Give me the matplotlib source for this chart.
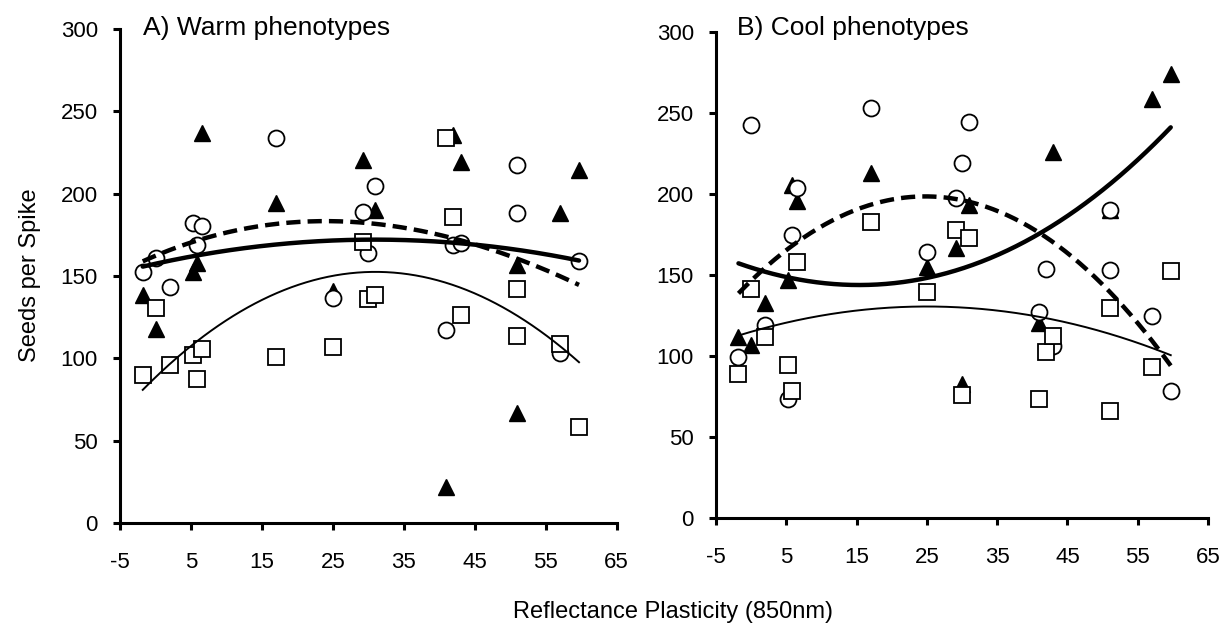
import numpy as np
import matplotlib
matplotlib.use('Agg')
import matplotlib.pyplot as plt

plt.rcParams['font.family'] = ['Liberation Sans', 'DejaVu Sans']
plt.rcParams['axes.unicode_minus'] = False

# ---- A) warm phenotypes ----
warm_tri_x = [-1.8, 0, 5.3, 5.8, 6.5, 17, 25, 29.2, 31, 41, 42, 43, 51, 51, 57, 59.7]
warm_tri_y = [138.5, 118, 152.5, 158, 237, 194.5, 141, 220.5, 190, 22, 235.5, 219, 156.5, 66.5, 188.5, 214.5]
warm_circ_x = [-1.8, 0, 2, 5.3, 6.5, 5.8, 17, 25, 29.2, 30, 31, 41, 42, 43, 51, 51, 57, 59.7]
warm_circ_y = [152.5, 161, 143.5, 182, 180.5, 169, 234, 136.5, 189, 164, 204.5, 117, 169, 170, 217.5, 188.5, 103, 159]
warm_sq_x = [-1.8, 0, 2, 5.3, 6.5, 5.8, 17, 25, 29.2, 30, 31, 41, 42, 43, 51, 51, 57, 59.7]
warm_sq_y = [90, 130.5, 96, 102, 105.5, 87.5, 101, 107, 170.5, 136, 138.5, 234, 186, 126.5, 142, 113.5, 108.5, 58.5]

# trendline coefficients (highest power first)
warm_tri_fit = [-0.01532, 0.947, 157.45]
warm_circ_fit = [0.00010428, -0.041577, 1.81385, 162.295]
warm_sq_fit = [-0.0666, 4.129, 88.5]

# ---- B) cool phenotypes ----
cool_tri_x = [-1.8, 0, 2, 5.3, 5.8, 6.5, 17, 25, 29.2, 30, 31, 41, 43, 51, 57, 59.7]
cool_tri_y = [111.5, 106.5, 132.5, 147, 205.5, 196, 213, 155, 166.5, 82.5, 193.5, 120.5, 226, 190, 259, 274.5]
cool_circ_x = [-1.8, 0, 2, 5.3, 5.8, 6.5, 17, 25, 29.2, 30, 31, 41, 42, 43, 51, 51, 57, 59.7]
cool_circ_y = [99, 242.5, 119, 73.5, 174.5, 203.5, 253.5, 164, 197.5, 219, 244.5, 127, 153.5, 106, 190, 153, 124.5, 78]
cool_sq_x = [-1.8, 0, 2, 5.3, 5.8, 6.5, 17, 25, 29.2, 30, 31, 41, 42, 43, 51, 51, 57, 59.7]
cool_sq_y = [89, 141.5, 111.5, 94.5, 78.5, 158, 182.5, 139.5, 178, 75.5, 173, 73.5, 102.5, 112, 129.5, 66, 93, 152.5]

cool_tri_fit = [0.00006798, 0.043481, -1.38525, 154.566]
cool_circ_fit = [-0.00001516, -0.084189, 4.2003, 146.433]
cool_sq_fit = [-0.025, 1.25, 114.875]

fit_range = (-1.8, 59.7)
xticks = [-5, 5, 15, 25, 35, 45, 55, 65]
yticks = [0, 50, 100, 150, 200, 250, 300]


def draw_panel(ax, tri, circ, sq, fits):
    ax.plot(tri[0], tri[1], ls='none', marker='^', ms=12, mfc='black', mec='black', mew=1)
    ax.plot(circ[0], circ[1], ls='none', marker='o', ms=11.5, mfc='white', mec='black', mew=1.3)
    ax.plot(sq[0], sq[1], ls='none', marker='s', ms=11, mfc='white', mec='black', mew=1.3)

    xx = np.linspace(fit_range[0], fit_range[1], 300)
    ax.plot(xx, np.polyval(fits[0], xx), color='black', lw=3.2, solid_capstyle='round')
    ax.plot(xx, np.polyval(fits[1], xx), color='black', lw=3.2, dashes=(3.2, 1.6))
    ax.plot(xx, np.polyval(fits[2], xx), color='black', lw=1.4)

    ax.set_xlim(-5, 65)
    ax.set_ylim(0, 300)
    ax.set_xticks(xticks)
    ax.set_yticks(yticks)
    for s in ['top', 'right']:
        ax.spines[s].set_visible(False)
    for s in ['left', 'bottom']:
        ax.spines[s].set_linewidth(2.2)
    ax.tick_params(direction='out', length=5, width=2.2, labelsize=16)
    ax.tick_params(axis='y', pad=11)
    ax.tick_params(axis='x', pad=16)


fig = plt.figure(figsize=(12.3, 6.36), dpi=100)
ax1 = fig.add_axes([0.0976, 0.1777, 0.4037, 0.7767])
ax2 = fig.add_axes([0.5821, 0.1863, 0.4000, 0.7627])

draw_panel(ax1, (warm_tri_x, warm_tri_y), (warm_circ_x, warm_circ_y), (warm_sq_x, warm_sq_y),
           (warm_tri_fit, warm_circ_fit, warm_sq_fit))
draw_panel(ax2, (cool_tri_x, cool_tri_y), (cool_circ_x, cool_circ_y), (cool_sq_x, cool_sq_y),
           (cool_tri_fit, cool_circ_fit, cool_sq_fit))

fig.text(143 / 1230, 1 - 35 / 636, 'A) Warm phenotypes', fontsize=19, va='baseline')
fig.text(737 / 1230, 1 - 35 / 636, 'B) Cool phenotypes', fontsize=19, va='baseline')
fig.text(0.547, 1 - 612 / 636, 'Reflectance Plasticity (850nm)', fontsize=17, ha='center', va='center')
fig.text(30 / 1230, 1 - 275 / 636, 'Seeds per Spike', fontsize=17, rotation=90, ha='center', va='center')

fig.savefig('out.png', dpi=100)
